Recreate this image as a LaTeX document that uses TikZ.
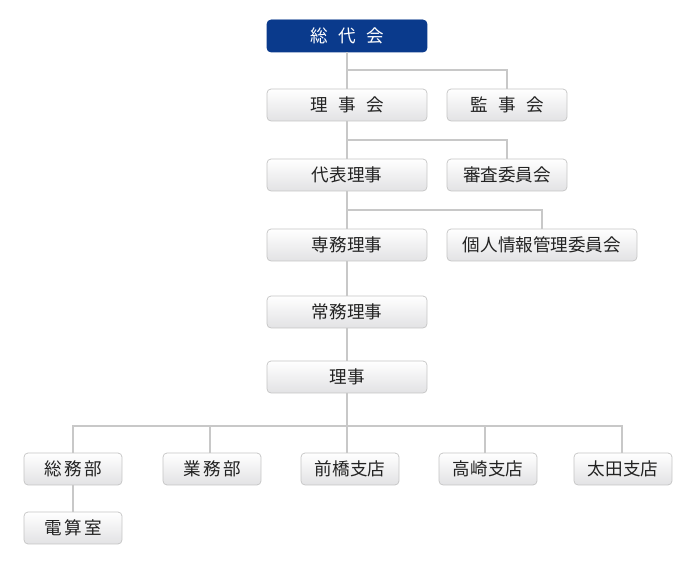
\documentclass[tikz,border=0pt]{standalone}
\usepackage{fontspec}
\setmainfont{Noto Sans CJK JP}
\definecolor{linegray}{HTML}{C8C8C8}
\definecolor{boxline}{HTML}{C4C4C4}
\definecolor{boxbottom}{HTML}{E2E2E4}
\definecolor{navy}{HTML}{0A3A8C}
\definecolor{txt}{HTML}{222222}
\newcommand\jgap{\hspace{0.6em}}
\newcommand\jsep{\hspace{0.15em}}
\tikzset{
  box/.style={draw=boxline, rounded corners=2.3pt, top color=white, bottom color=boxbottom,
    text=txt, minimum height=0.64cm, inner sep=0pt, font=\fontsize{10pt}{12pt}\selectfont},
  wide/.style={box, minimum width=3.2cm},
  mid/.style={box, minimum width=2.4cm},
  small/.style={box, minimum width=1.96cm},
  top/.style={wide, draw=navy, fill=navy, top color=navy, bottom color=navy, text=white},
  conn/.style={draw=linegray, line width=0.6pt}
}
\begin{document}
\begin{tikzpicture}[x=0.02cm, y=-0.02cm]
	\useasboundingbox (0,0) rectangle (700,570);

	% Vertical chain
	\node[top]  (sodai)  at (347,36)  {総\jgap 代\jgap 会};
	\node[wide] (rijikai) at (347,105) {理\jgap 事\jgap 会};
	\node[wide] (daihyo) at (347,175) {代表理事};
	\node[wide] (senmu)  at (347,245) {専務理事};
	\node[wide] (jomu)   at (347,312) {常務理事};
	\node[wide] (riji)   at (347,377) {理事};

	% Side boxes
	\node[mid] (kanji)  at (507,105) {監\jgap 事\jgap 会};
	\node[mid] (shinsa) at (507,175) {審査委員会};
	\node[box, minimum width=3.8cm] (kojin) at (542,245) {個人情報管理委員会};

	% Bottom row
	\node[small] (somu)    at (73,469)  {総\jsep 務\jsep 部};
	\node[small] (gyomu)   at (212,469) {業\jsep 務\jsep 部};
	\node[small] (maebashi) at (350,469) {前橋支店};
	\node[small] (takasaki) at (488,469) {高崎支店};
	\node[small] (ota)      at (623,469) {太田支店};
	\node[small] (densan)   at (73,528)  {電\jsep 算\jsep 室};

	% Branch points
	\coordinate (b1) at (347,70);
	\coordinate (b2) at (347,140);
	\coordinate (b3) at (347,210);
	\coordinate (b4) at (347,426);

	% Connectors
	\draw[conn] (sodai.south) -- (rijikai.north);
	\draw[conn] (rijikai.south) -- (daihyo.north);
	\draw[conn] (daihyo.south) -- (senmu.north);
	\draw[conn] (senmu.south) -- (jomu.north);
	\draw[conn] (jomu.south) -- (riji.north);
	\draw[conn] (riji.south) -- (b4);
	\draw[conn] (b1) -| (kanji.north);
	\draw[conn] (b2) -| (shinsa.north);
	\draw[conn] (b3) -| (kojin.north);
	\draw[conn] (b4) -| (somu.north);
	\draw[conn] (b4) -| (ota.north -| 622,0);
	\draw[conn] (b4 -| 210,0) -- (gyomu.north -| 210,0);
	\draw[conn] (b4) -- (maebashi.north -| b4);
	\draw[conn] (b4 -| 485,0) -- (takasaki.north -| 485,0);
	\draw[conn] (somu.south) -- (densan.north);
\end{tikzpicture}
\end{document}
